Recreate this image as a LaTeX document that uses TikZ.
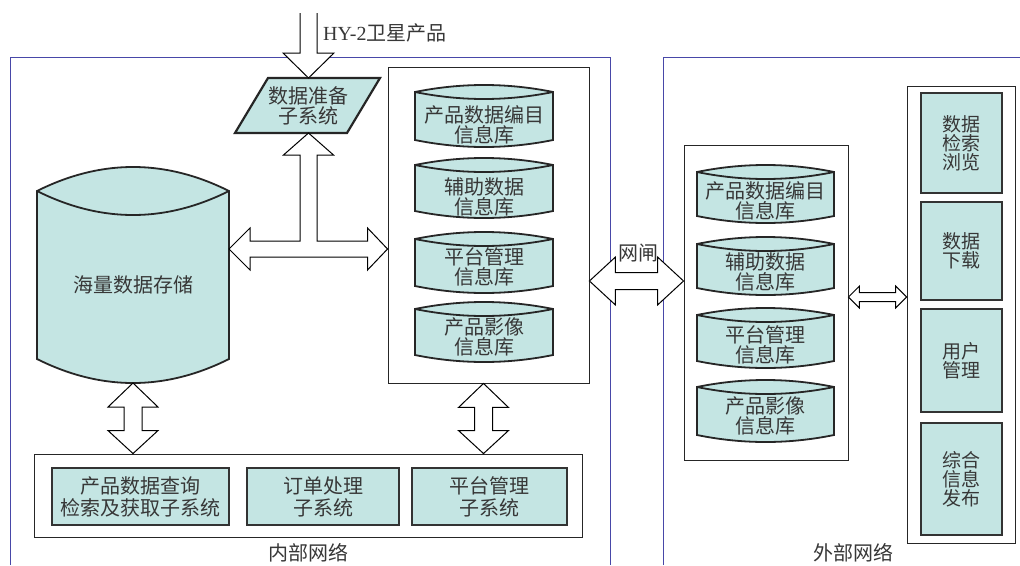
\documentclass[tikz,border=0pt]{standalone}
\usepackage{fontspec}
\newfontfamily\cjk{Noto Sans CJK SC}
\newfontfamily\serifla{Liberation Serif}
\usetikzlibrary{calc,fit}
\definecolor{cellfill}{RGB}{196,229,227}
\definecolor{netblue}{RGB}{72,72,168}
\definecolor{inkgray}{RGB}{55,55,55}

% database drum: name, left x, right x, rim y, base y, bulge, label y, label
\newcommand\dbcyl[8]{%
  \draw[cylbody] (#2,#4) .. controls ({#2+(#3-#2)/3},{#4-4*#6/3}) and ({#3-(#3-#2)/3},{#4-4*#6/3}) .. (#3,#4)
    -- (#3,#5) .. controls ({#3-(#3-#2)/3},{#5+4*#6/3}) and ({#2+(#3-#2)/3},{#5+4*#6/3}) .. (#2,#5) -- cycle;
  \draw[cylbody, fill=none] (#2,#4) .. controls ({#2+(#3-#2)/3},{#4+4*#6/3}) and ({#3-(#3-#2)/3},{#4+4*#6/3}) .. (#3,#4);
  \node[lbl] (#1) at ({(#2+#3)/2},#7) {#8};
}
% filled cell with a centred label: name, corner, corner, font, label
\newcommand\cellbox[5]{%
  \node[cell, fit={#2 #3}] (#1frame) {};
  \node[lbl, font={#4}] (#1) at (#1frame.center) {#5};
}
% vertical two-headed block arrow from an upper tip to a lower tip
\newcommand\vdouble[2]{%
  \draw[blockarrow] let \p1=(#1), \p2=(#2) in
    (\x1,\y1) -- (\x1+25pt,\y1-24pt) -- (\x1+9pt,\y1-24pt) -- (\x1+9pt,\y2+23pt)
    -- (\x1+25pt,\y2+23pt) -- (\x1,\y2) -- (\x1-25pt,\y2+23pt) -- (\x1-9pt,\y2+23pt)
    -- (\x1-9pt,\y1-24pt) -- (\x1-25pt,\y1-24pt) -- cycle;
}
% horizontal two-headed block arrow: left tip, right tip, head half-height, shaft half-height, head length
\newcommand\hdouble[5]{%
  \draw[blockarrow] let \p1=(#1), \p2=(#2) in
    (\x1,\y1) -- (\x1+#5,\y1+#3) -- (\x1+#5,\y1+#4) -- (\x2-#5,\y1+#4) -- (\x2-#5,\y1+#3)
    -- (\x2,\y1) -- (\x2-#5,\y1-#3) -- (\x2-#5,\y1-#4) -- (\x1+#5,\y1-#4) -- (\x1+#5,\y1-#3) -- cycle;
}

\begin{document}
\begin{tikzpicture}[x=1pt,y=-1pt,
  lbl/.style={font={\cjk\fontsize{20}{20}\selectfont}, text=inkgray, align=center, inner sep=0pt},
  netline/.style={draw=netblue, line width=0.9pt},
  holder/.style={draw=black!85, line width=0.9pt, fill=white, inner sep=0pt},
  cell/.style={draw=black!80, line width=2.2pt, fill=cellfill, inner sep=0pt},
  cylbody/.style={draw=black!85, line width=1.8pt, fill=cellfill},
  blockarrow/.style={draw=black, line width=1pt, fill=white, line join=miter},
]
\useasboundingbox (0,0) rectangle (1020,565);
\fill[white] (0,0) rectangle (1020,565);

% network zones
\draw[netline] (10,565) -- (10,57) -- (610,57) -- (610,565);
\draw[netline] (663,565) -- (663,57) -- (1020,57);
\node[lbl] (innernet) at (308,553) {内部网络};
\node[lbl] (outernet) at (853,553) {外部网络};

% containers
\node[holder, fit={(388,67) (589,383)}] (dbin) {};
\node[holder, fit={(34,454) (582,537)}] (subsys) {};
\node[holder, fit={(684,145) (848,460)}] (dbout) {};
\node[holder, fit={(907,86) (1015,543)}] (portal) {};

% data preparation subsystem
\draw[cylbody, line width=2.2pt] (235,133) -- (347,133) -- (380,78) -- (268,78) -- cycle;
\node[lbl] (prep) at (308,106) {数据准备\\子系统};
\coordinate (preptop) at (308.5,78);
\coordinate (prepbot) at (308.5,133);

% mass storage
\dbcyl{store}{37}{229}{191}{359}{24}{285}{海量数据存储}
\coordinate (storebase) at (133,383);

% internal databases
\dbcyl{catin}{415}{553}{92}{140}{7}{125}{产品数据编目\\信息库}
\dbcyl{auxin}{415}{553}{165}{211}{7}{197}{辅助数据\\信息库}
\dbcyl{mgmtin}{415}{553}{239}{286}{7}{267}{平台管理\\信息库}
\dbcyl{imgin}{415}{553}{309}{355}{7}{337}{产品影像\\信息库}

% external databases
\dbcyl{catout}{697}{834}{172}{216}{7}{201}{产品数据编目\\信息库}
\dbcyl{auxout}{697}{834}{244}{288}{7}{272}{辅助数据\\信息库}
\dbcyl{mgmtout}{697}{834}{315}{361}{7}{345}{平台管理\\信息库}
\dbcyl{imgout}{697}{834}{387}{435}{7}{416}{产品影像\\信息库}

% internal subsystems
\cellbox{query}{(52,468)}{(229,525)}{\cjk\fontsize{20}{22}\selectfont}{产品数据查询\\检索及获取子系统}
\cellbox{order}{(247,468)}{(399,525)}{\cjk\fontsize{20}{22}\selectfont}{订单处理\\子系统}
\cellbox{admin}{(412,468)}{(567,525)}{\cjk\fontsize{20}{22}\selectfont}{平台管理\\子系统}

% external services
\cellbox{browse}{(921,93)}{(1002,193)}{\cjk\fontsize{19}{19}\selectfont}{数据\\检索\\浏览}
\cellbox{download}{(921,202)}{(1002,300)}{\cjk\fontsize{19}{19}\selectfont}{数据\\下载}
\cellbox{users}{(921,309)}{(1002,412)}{\cjk\fontsize{19}{19}\selectfont}{用户\\管理}
\cellbox{publish}{(921,423)}{(1002,535)}{\cjk\fontsize{19}{19}\selectfont}{综合\\信息\\发布}

% incoming satellite products
\coordinate (feed) at (308.5,13);
\draw[blockarrow] let \p1=(feed), \p2=(preptop) in
  (\x1-8.5pt,\y1) -- (\x1-8.5pt,\y2+25pt) -- (\x1-25.5pt,\y2+25pt) -- (\x2,\y2)
  -- (\x1+25.5pt,\y2+25pt) -- (\x1+8.5pt,\y2+25pt) -- (\x1+8.5pt,\y1);
\node[anchor=west, inner sep=0pt, text=inkgray, font={\fontsize{20}{20}\selectfont}] (feedlabel) at (323,33) {\serifla HY-2\cjk 卫星产品};

% storage <-> databases, with branch up to data preparation
\coordinate (hubL) at (229,249);
\draw[blockarrow] let \p1=(hubL), \p2=(dbin.west |- hubL), \p3=(prepbot) in
  (\x1,\y1) -- (\x1+21pt,\y1+21pt) -- (\x1+21pt,\y1+8pt) -- (\x3-8.5pt,\y1+8pt)
  -- (\x3-8.5pt,\y3-22pt) -- (\x3-25pt,\y3-22pt) -- (\x3,\y3) -- (\x3+25pt,\y3-22pt)
  -- (\x3+8.5pt,\y3-22pt) -- (\x3+8.5pt,\y1+8pt) -- (\x2-20pt,\y1+8pt) -- (\x2-20pt,\y1+21pt)
  -- (\x2,\y1) -- (\x2-20pt,\y1-21pt) -- (\x2-20pt,\y1-8pt) -- (\x1+21pt,\y1-8pt)
  -- (\x1+21pt,\y1-21pt) -- cycle;

% storage and databases <-> subsystems
\vdouble{storebase}{subsys.north -| storebase}
\coordinate (adminlink) at (483.5,400);
\vdouble{dbin.south -| adminlink}{subsys.north -| adminlink}

% gateway between the networks
\coordinate (gatey) at (0,281);
\hdouble{dbin.east |- gatey}{dbout.west |- gatey}{24pt}{8.5pt}{26pt}
\node[lbl] (gate) at (638,253) {网闸};

% external databases <-> services
\coordinate (linky) at (0,297);
\hdouble{dbout.east |- linky}{portal.west |- linky}{11pt}{4.5pt}{11pt}
\end{tikzpicture}
\end{document}
